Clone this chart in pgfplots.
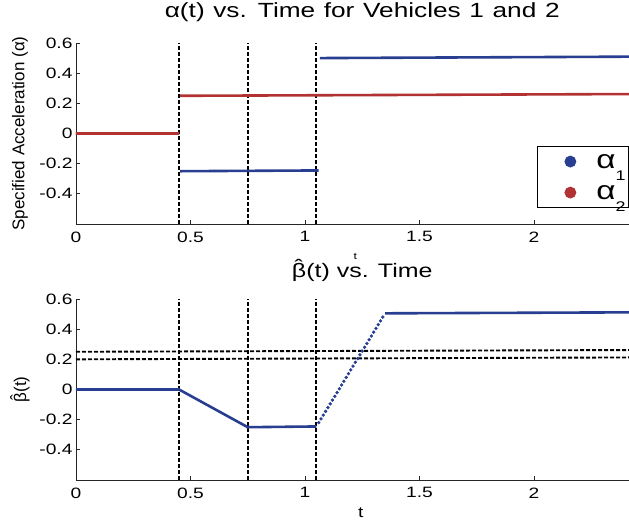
\documentclass[border=0pt]{standalone}
\usepackage{fontspec}
\setmainfont{Liberation Sans}[FakeStretch=1.28]
\newfontfamily\plainfont{Liberation Sans}
\usepackage{pgfplots}
\pgfplotsset{compat=1.18}
\definecolor{ablue}{RGB}{40,62,145}
\definecolor{ared}{RGB}{178,50,52}
\newcommand\bhat{\rlap{\kern0.13em\raisebox{0.2em}{ˆ}}β}
\newcommand\widesp{\spaceskip=0.42em\relax}
\newcommand\sub[1]{\lower12pt\hbox{\fontsize{14}{14}\selectfont #1}}

\pgfplotsset{
  mlab/.style={
    width=553pt, height=181pt, scale only axis,
    xmin=0, xmax=2.415, ymin=-0.6, ymax=0.6,
    axis x line=bottom, axis y line=left,
    axis line style={-, line width=0.9pt, black!85},
    tick align=inside, major tick length=4pt,
    tick style={black!85, line width=0.8pt},
    xtick={0,0.5,1,1.5,2}, ytick={-0.4,-0.2,0,0.2,0.4,0.6},
    /pgf/number format/assume math mode=true,
    ticklabel style={font=\fontsize{15}{17}\selectfont},
    xticklabel style={yshift=-4pt},
    ylabel style={at={(axis description cs:-0.1013,0.5)}, anchor=center, font=\plainfont\fontsize{17}{19}\selectfont},
  },
  vdash/.style={black, line width=1.9pt, dash pattern=on 4pt off 2pt, forget plot},
  dat/.style={line width=2.6pt, forget plot, unbounded coords=jump},
}

\begin{document}
\begin{tikzpicture}
\path[use as bounding box] (0pt,0pt) rectangle (629pt,-521pt);

% top panel: specified acceleration of both vehicles
\begin{axis}[mlab, at={(76pt,-224pt)}, anchor=south west,
  title={\widesp α(t) vs. Time for Vehicles 1 and 2},
  title style={at={(axis description cs:0.5176,1.105)}, anchor=base,
    font=\fontsize{20.5}{23}\selectfont},
  xlabel={t},
  xlabel style={at={(axis description cs:0.505,-0.177)}, anchor=center, font=\fontsize{9.5}{11}\selectfont},
  ylabel={Specified Acceleration (α)},
  legend style={at={(axis cs:2.415,-0.084)}, anchor=north east, draw=black, line width=0.8pt,
    font=\fontsize{26}{28}\selectfont, inner xsep=2pt, inner ysep=7pt, row sep=15pt},
  legend cell align=left,
  legend image code/.code={\path[draw=none] (0pt,-4pt) rectangle (56pt,4pt); \draw[#1] plot coordinates {(31pt,0pt)};},
]
\addplot[vdash] coordinates {(0.45,-0.6) (0.45,0.6)};
\addplot[vdash] coordinates {(0.75,-0.6) (0.75,0.6)};
\addplot[vdash] coordinates {(1.05,-0.6) (1.05,0.6)};
% alpha_1
\addplot[dat, ablue] coordinates {
  (0,0) (0.45,0) (0.45,nan)
  (0.455,-0.25) (1.06,-0.245) (1.06,nan)
  (1.065,0.5) (2.5,0.51)
};
% alpha_2
\addplot[dat, ared] coordinates {
  (0,0) (0.45,0) (0.45,nan)
  (0.455,0.25) (2.5,0.262)
};
\addlegendimage{only marks, mark=*, mark size=5.5pt, ablue}
\addlegendentry[inner sep=1pt, text height=14pt, text depth=0pt]{α\sub{1}}
\addlegendimage{only marks, mark=*, mark size=5.5pt, ared}
\addlegendentry[inner sep=1pt, text height=14pt, text depth=0pt]{α\sub{2}}
\end{axis}

% bottom panel: estimated beta
\begin{axis}[mlab, at={(76pt,-480pt)}, anchor=south west,
  title={\bhat(t) vs. Time},
  title style={at={(axis description cs:0.5176,1.0884)}, anchor=base, font=\fontsize{19.5}{22}\selectfont},
  xlabel={t},
  xlabel style={at={(axis description cs:0.515,-0.182)}, anchor=center, font=\fontsize{15}{17}\selectfont},
  ylabel={\bhat(t)},
]
\addplot[vdash] coordinates {(0.45,-0.6) (0.45,0.6)};
\addplot[vdash] coordinates {(0.75,-0.6) (0.75,0.6)};
\addplot[vdash] coordinates {(1.05,-0.6) (1.05,0.6)};
\addplot[vdash] coordinates {(0,0.25) (2.5,0.262)};
\addplot[vdash] coordinates {(0,0.2) (2.5,0.213)};
\addplot[dat, ablue] coordinates {
  (0,0) (0.45,0) (0.75,-0.25) (1.05,-0.245)
};
\addplot[ablue, only marks, mark=*, mark size=1.5pt, forget plot] coordinates {
  (1.06,-0.22) (1.07,-0.195) (1.08,-0.17) (1.09,-0.145) (1.10,-0.12)
  (1.11,-0.095) (1.12,-0.07) (1.13,-0.045) (1.14,-0.02) (1.15,0.005)
  (1.16,0.03) (1.17,0.055) (1.18,0.08) (1.19,0.105) (1.20,0.13)
  (1.21,0.155) (1.22,0.18) (1.23,0.205) (1.24,0.23) (1.25,0.255)
  (1.26,0.28) (1.27,0.305) (1.28,0.33) (1.29,0.355) (1.30,0.38)
  (1.31,0.405) (1.32,0.43) (1.33,0.455) (1.34,0.48)
};
\addplot[dat, ablue] coordinates {
  (1.35,0.505) (2.5,0.512)
};
\end{axis}
\end{tikzpicture}
\end{document}
